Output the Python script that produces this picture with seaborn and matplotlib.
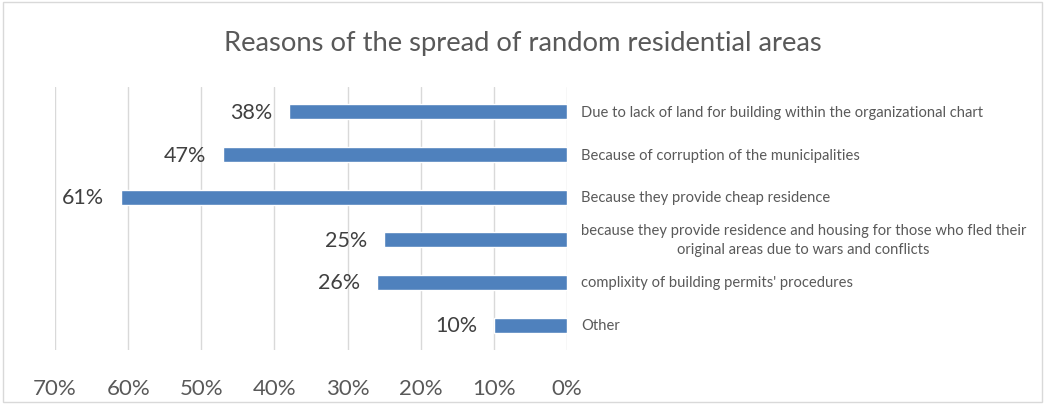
import matplotlib
matplotlib.use("Agg")
import matplotlib.pyplot as plt
from matplotlib.patches import Rectangle
from matplotlib.ticker import FuncFormatter
import pandas as pd
import seaborn as sns

title = "Reasons of the spread of random residential areas"
reasons = [
    "Due to lack of land for building within the organizational chart",
    "Because of corruption of the municipalities",
    "Because they provide cheap residence",
    "because they provide residence and housing for those who fled their\noriginal areas due to wars and conflicts",
    "complixity of building permits' procedures",
    "Other",
]
shares = [38, 47, 61, 25, 26, 10]
x_ticks = [70, 60, 50, 40, 30, 20, 10, 0]

df = pd.DataFrame({"reason": reasons, "share": shares})

sns.set_theme(style="white")
plt.rcParams["font.family"] = ["Lato", "DejaVu Sans"]

fig = plt.figure(figsize=(10.45, 4.06), dpi=100)
fig.patch.set_facecolor("white")
ax = fig.add_axes([55 / 1045, 1 - 351 / 406, (567 - 55) / 1045, (351 - 88) / 406])

sns.barplot(data=df, x="share", y="reason", orient="h", color="#4f81bd",
            saturation=1, width=0.35, ax=ax, zorder=3)

ax.set_xlim(70, 0)
ax.set_ylim(5.585, -0.585)
ax.set_xticks(x_ticks)
ax.xaxis.set_major_formatter(FuncFormatter(lambda v, _: f"{v:.0f}%"))
ax.grid(axis="x", color="#d9d9d9", linewidth=1)
ax.grid(axis="y", visible=False)
ax.set_axisbelow(True)
for s in ax.spines.values():
    s.set_visible(False)
ax.set_xlabel("")
ax.set_ylabel("")

ax.tick_params(axis="x", length=0, pad=20, labelsize=16, labelcolor="#595959")
ax.yaxis.tick_right()
ax.tick_params(axis="y", length=0, pad=10, labelsize=10.6, labelcolor="#595959")
for lab in ax.get_yticklabels():
    lab.set_multialignment("center")
    lab.set_horizontalalignment("left")
    lab.set_verticalalignment("center")
    lab.set_linespacing(1.45)

ax.bar_label(ax.containers[0], labels=[f"{v}%" for v in shares],
             padding=12, fontsize=15.5, color="#404040")

fig.text(0.5, 1 - 44 / 406, title, ha="center", va="center",
         fontsize=19.7, color="#595959")

fig.patches.append(Rectangle((3 / 1045, 3 / 406), 1039 / 1045, 400 / 406,
                             transform=fig.transFigure, fill=False,
                             edgecolor="#d9d9d9", linewidth=1))

fig.savefig("out.png", dpi=100)
